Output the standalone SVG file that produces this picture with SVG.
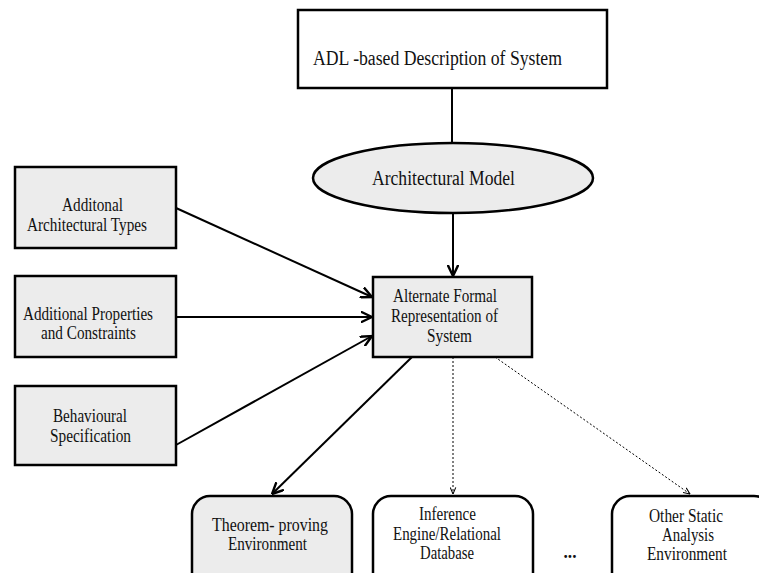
<svg xmlns="http://www.w3.org/2000/svg" width="759" height="573" viewBox="0 0 759 573">
<style>
.box{stroke:#000;stroke-width:2.5;fill:#ececec}
.white{fill:#fff}
text{font-family:'Liberation Serif','DejaVu Serif',serif;font-size:18px;fill:#111;text-anchor:middle}
.big{font-size:20px}
.c{fill:none;stroke:#000;stroke-width:2}
.d{fill:none;stroke:#000;stroke-width:1;stroke-dasharray:2 2}
</style>
<defs>
<marker id="arr" viewBox="0 0 10 10" refX="9.5" refY="5" markerWidth="12" markerHeight="12" markerUnits="userSpaceOnUse" orient="auto">
<path d="M0,0.5 L9.5,5 L0,9.5" fill="none" stroke="#000" stroke-width="2"/>
</marker>
<marker id="arrs" viewBox="0 0 10 10" refX="9.5" refY="5" markerWidth="7" markerHeight="7" markerUnits="userSpaceOnUse" orient="auto">
<path d="M0,1 L9.5,5 L0,9" fill="none" stroke="#000" stroke-width="1.5"/>
</marker>
</defs>
<rect width="759" height="573" fill="#fff"/>
<g id="connectors">
<line class="c" x1="452" y1="88" x2="452" y2="143"/>
<line class="c" x1="453" y1="213" x2="453" y2="276" marker-end="url(#arr)"/>
<line class="c" x1="176" y1="208" x2="372" y2="297" marker-end="url(#arr)"/>
<line class="c" x1="176" y1="317" x2="372" y2="317" marker-end="url(#arr)"/>
<line class="c" x1="176" y1="445" x2="372" y2="336" marker-end="url(#arr)"/>
<line class="c" x1="412" y1="357" x2="272" y2="494" marker-end="url(#arr)"/>
<line class="d" x1="453" y1="357" x2="453" y2="494" marker-end="url(#arrs)"/>
<line class="d" x1="495" y1="357" x2="690" y2="494" marker-end="url(#arrs)"/>
</g>
<g id="adl" font-family="Liberation Serif, serif">
<rect class="box white" x="298" y="10" width="309" height="78"/>
<text class="big" x="437.5" y="65" textLength="249" lengthAdjust="spacingAndGlyphs">ADL -based Description of System</text>
</g>
<g id="model">
<ellipse class="box" cx="453" cy="178" rx="140" ry="35"/>
<text class="big" x="443.5" y="185" textLength="143" lengthAdjust="spacingAndGlyphs">Architectural Model</text>
</g>
<g id="alternate">
<rect class="box" x="373" y="277" width="159" height="80"/>
<text x="445" y="302" textLength="104" lengthAdjust="spacingAndGlyphs">Alternate Formal</text>
<text x="444.5" y="322" textLength="107" lengthAdjust="spacingAndGlyphs">Representation of</text>
<text x="449.5" y="342" textLength="45" lengthAdjust="spacingAndGlyphs">System</text>
</g>
<g id="types">
<rect class="box" x="15" y="167" width="161" height="81"/>
<text x="92.5" y="211" textLength="61" lengthAdjust="spacingAndGlyphs">Additonal</text>
<text x="87" y="231" textLength="120" lengthAdjust="spacingAndGlyphs">Architectural Types</text>
</g>
<g id="properties">
<rect class="box" x="15" y="276" width="161" height="81"/>
<text x="88" y="320" textLength="130" lengthAdjust="spacingAndGlyphs">Additional Properties</text>
<text x="88.5" y="339" textLength="95" lengthAdjust="spacingAndGlyphs">and Constraints</text>
</g>
<g id="behaviour">
<rect class="box" x="15" y="386" width="161" height="79"/>
<text x="90" y="422" textLength="74" lengthAdjust="spacingAndGlyphs">Behavioural</text>
<text x="90.5" y="442" textLength="81" lengthAdjust="spacingAndGlyphs">Specification</text>
</g>
<g id="theorem">
<rect class="box" x="192" y="496" width="160" height="100" rx="18"/>
<text x="270" y="531" textLength="116" lengthAdjust="spacingAndGlyphs">Theorem-  proving</text>
<text x="267.5" y="550" textLength="79" lengthAdjust="spacingAndGlyphs">Environment</text>
</g>
<g id="inference">
<rect class="box white" x="373" y="496" width="160" height="100" rx="18"/>
<text x="447.5" y="520" textLength="57" lengthAdjust="spacingAndGlyphs">Inference</text>
<text x="447" y="540" textLength="108" lengthAdjust="spacingAndGlyphs">Engine/Relational</text>
<text x="447" y="559" textLength="54" lengthAdjust="spacingAndGlyphs">Database</text>
</g>
<g id="ellipsis">
<text x="570" y="558" font-weight="bold" textLength="13" lengthAdjust="spacingAndGlyphs">...</text>
</g>
<g id="other">
<rect class="box white" x="612" y="496" width="160" height="100" rx="18"/>
<text x="686" y="522" textLength="74" lengthAdjust="spacingAndGlyphs">Other Static</text>
<text x="688" y="541" textLength="52" lengthAdjust="spacingAndGlyphs">Analysis</text>
<text x="687" y="560" textLength="80" lengthAdjust="spacingAndGlyphs">Environment</text>
</g>
</svg>
